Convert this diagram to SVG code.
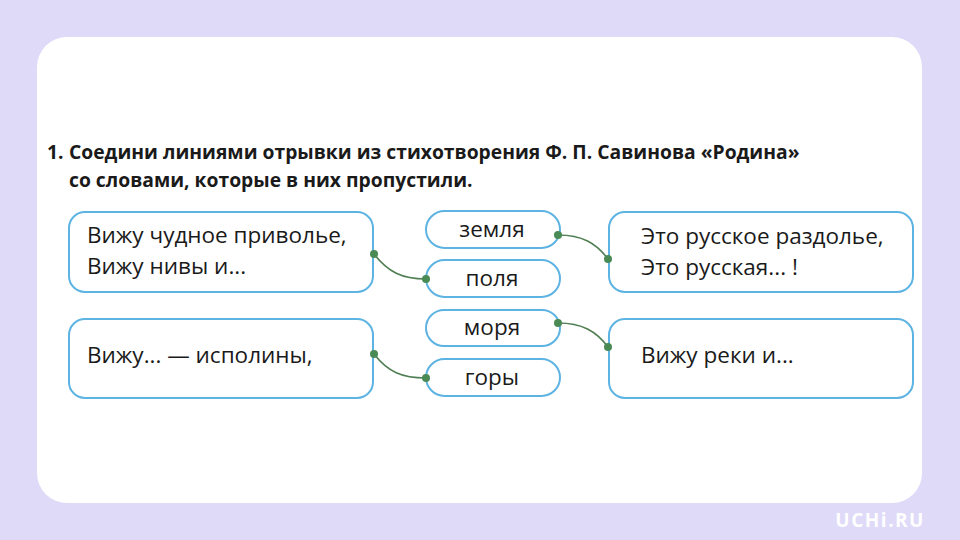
<svg xmlns="http://www.w3.org/2000/svg" width="960" height="540" viewBox="0 0 960 540">
<style>
.box{fill:#fff;stroke:#5db3e2;stroke-width:2}
.t{font-family:"Open Sans","Noto Sans",sans-serif;font-size:22.5px;fill:#1a1a1a}
.c{text-anchor:middle}
.h{font-family:"Open Sans","Noto Sans",sans-serif;font-size:19.3px;font-weight:bold;fill:#1a1a1a}
.ln{fill:none;stroke:#4e7e52;stroke-width:1.6}
.dot{fill:#4a8a55}
</style>
<rect width="960" height="540" fill="#dedaf8"/>
<rect x="37" y="37" width="885" height="466" rx="30" fill="#fff"/>
<text class="h" x="47" y="159">1.</text>
<text class="h" x="69" y="159">Соедини линиями отрывки из стихотворения Ф. П. Савинова «Родина»</text>
<text class="h" x="69" y="187">со словами, которые в них пропустили.</text>
<g id="left1"><rect class="box" x="69" y="212" width="304" height="80" rx="16"/>
<text class="t" x="87" y="243">Вижу чудное приволье,</text>
<text class="t" x="87" y="274">Вижу нивы и...</text></g>
<g id="left2"><rect class="box" x="69" y="319" width="304" height="79" rx="16"/>
<text class="t" x="87" y="363">Вижу... — исполины,</text></g>
<g id="zemlya"><rect class="box" x="426" y="211" width="134" height="37" rx="18.5"/>
<text class="t c" x="492" y="237">земля</text></g>
<g id="polya"><rect class="box" x="426" y="260" width="134" height="37" rx="18.5"/>
<text class="t c" x="492" y="286">поля</text></g>
<g id="morya"><rect class="box" x="426" y="310" width="134" height="36" rx="18"/>
<text class="t c" x="492" y="335">моря</text></g>
<g id="gory"><rect class="box" x="426" y="359" width="134" height="37" rx="18.5"/>
<text class="t c" x="492" y="385">горы</text></g>
<g id="right1"><rect class="box" x="609" y="212" width="304" height="80" rx="16"/>
<text class="t" x="641" y="244">Это русское раздолье,</text>
<text class="t" x="641" y="275">Это русская... !</text></g>
<g id="right2"><rect class="box" x="609" y="319" width="304" height="79" rx="16"/>
<text class="t" x="641" y="363">Вижу реки и...</text></g>
<g id="connectors">
<path class="ln" d="M374,254 C388,272 402,279 426,279"/>
<path class="ln" d="M374,354 C388,372 402,378 426,378"/>
<path class="ln" d="M558,235 C582,235 596,243 608,259"/>
<path class="ln" d="M558,323 C582,323 596,331 608,347"/>
<circle class="dot" cx="374" cy="254" r="4"/>
<circle class="dot" cx="426" cy="279" r="4"/>
<circle class="dot" cx="374" cy="354" r="4"/>
<circle class="dot" cx="426" cy="378" r="4"/>
<circle class="dot" cx="558" cy="235" r="4"/>
<circle class="dot" cx="608" cy="259" r="4"/>
<circle class="dot" cx="558" cy="323" r="4"/>
<circle class="dot" cx="608" cy="347" r="4"/>
</g>
<text x="925" y="527" text-anchor="end" font-family="Open Sans, sans-serif" font-size="19" font-weight="bold" fill="#fff" letter-spacing="1.5">UCHi.RU</text>
</svg>
